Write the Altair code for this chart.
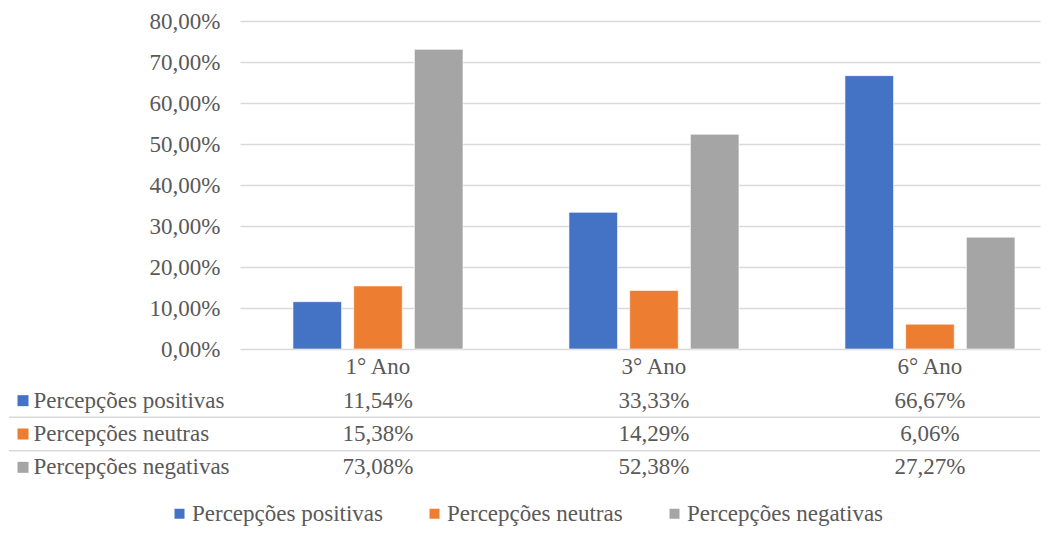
import altair as alt
import pandas as pd

categories = ["1° Ano", "3° Ano", "6° Ano"]
series = ["Percepções positivas", "Percepções neutras", "Percepções negativas"]
positivas = [11.54, 33.33, 66.67]
neutras = [15.38, 14.29, 6.06]
negativas = [73.08, 52.38, 27.27]
colors = ["#4472C4", "#ED7D31", "#A5A5A5"]
y_ticks = [0, 10, 20, 30, 40, 50, 60, 70, 80]

rows = []
for s, vals in zip(series, [positivas, neutras, negativas]):
    for c, v in zip(categories, vals):
        rows.append({"categoria": c, "serie": s, "valor": v})
df = pd.DataFrame(rows)

FONT = "Liberation Serif"
TXT = "#595959"
GRID = "#d9d9d9"
FS = 23
W = 800
fmt = "replace(format(datum.valor, '.2f'), '.', ',') + '%'"

xscale = alt.Scale(type="band", domain=categories, paddingInner=0.384, paddingOuter=0.1413, align=0.679)

color = alt.Color(
    "serie:N",
    scale=alt.Scale(domain=series, range=colors),
    legend=alt.Legend(
        title=None, orient="none", legendX=-72, legendY=481, direction="horizontal",
        symbolType="square", symbolSize=100, symbolStrokeWidth=0,
        labelFont=FONT, labelFontSize=FS, labelColor=TXT, labelOffset=1,
        columnPadding=40, labelLimit=400,
    ),
)

bars = alt.Chart(df).mark_bar(stroke="white", strokeWidth=0.6).encode(
    x=alt.X("categoria:N", scale=xscale, sort=categories,
            axis=alt.Axis(title=None, domain=False, ticks=False, labelAngle=0, labelPadding=6,
                          labelFont=FONT, labelFontSize=FS, labelColor=TXT)),
    xOffset=alt.XOffset("serie:N", sort=series,
                        scale=alt.Scale(domain=series, paddingInner=0.2, paddingOuter=0)),
    y=alt.Y("valor:Q", scale=alt.Scale(domain=[0, 80], nice=False),
            axis=alt.Axis(title=None, values=y_ticks,
                          labelExpr="replace(format(datum.value, '.2f'), '.', ',') + '%'",
                          domain=False, ticks=False, grid=True, gridColor=GRID, gridWidth=1.5,
                          labelPadding=20, labelFont=FONT, labelFontSize=FS, labelColor=TXT)),
    color=color,
).properties(width=W, height=328)

yaxis = alt.Axis(title=None, domain=False, ticks=False, grid=False, labelAlign="left",
                 labelPadding=207, labelFont=FONT, labelFontSize=FS, labelColor=TXT,
                 labelBaseline="middle", labelLimit=400)
yscale = alt.Scale(type="band", domain=series, paddingInner=0, paddingOuter=0)

cells = alt.Chart(df).transform_calculate(txt=fmt).mark_text(
    font=FONT, fontSize=FS, color=TXT
).encode(
    x=alt.X("categoria:N", scale=xscale, sort=categories, axis=None),
    y=alt.Y("serie:N", sort=series, scale=yscale, axis=yaxis),
    text="txt:N",
)

squares = alt.Chart(pd.DataFrame({"serie": series})).mark_square(size=121, opacity=1).encode(
    x=alt.value(-217),
    y=alt.Y("serie:N", sort=series, scale=yscale, axis=yaxis),
    color=color,
)

seps = alt.Chart(pd.DataFrame({"serie": series[1:]})).mark_rule(color=GRID, strokeWidth=1.5).encode(
    x=alt.value(-231),
    x2=alt.value(W),
    y=alt.Y("serie:N", sort=series, scale=yscale, axis=yaxis, bandPosition=0),
)

table = alt.layer(seps, cells, squares).properties(width=W, height=100)

chart = alt.vconcat(bars, table, spacing=35, bounds="flush").properties(
    padding={"left": 0, "top": 2, "right": 0, "bottom": 0}
).configure_view(stroke=None)

chart.save("out.html", embed_options={"renderer": "svg", "actions": False})
